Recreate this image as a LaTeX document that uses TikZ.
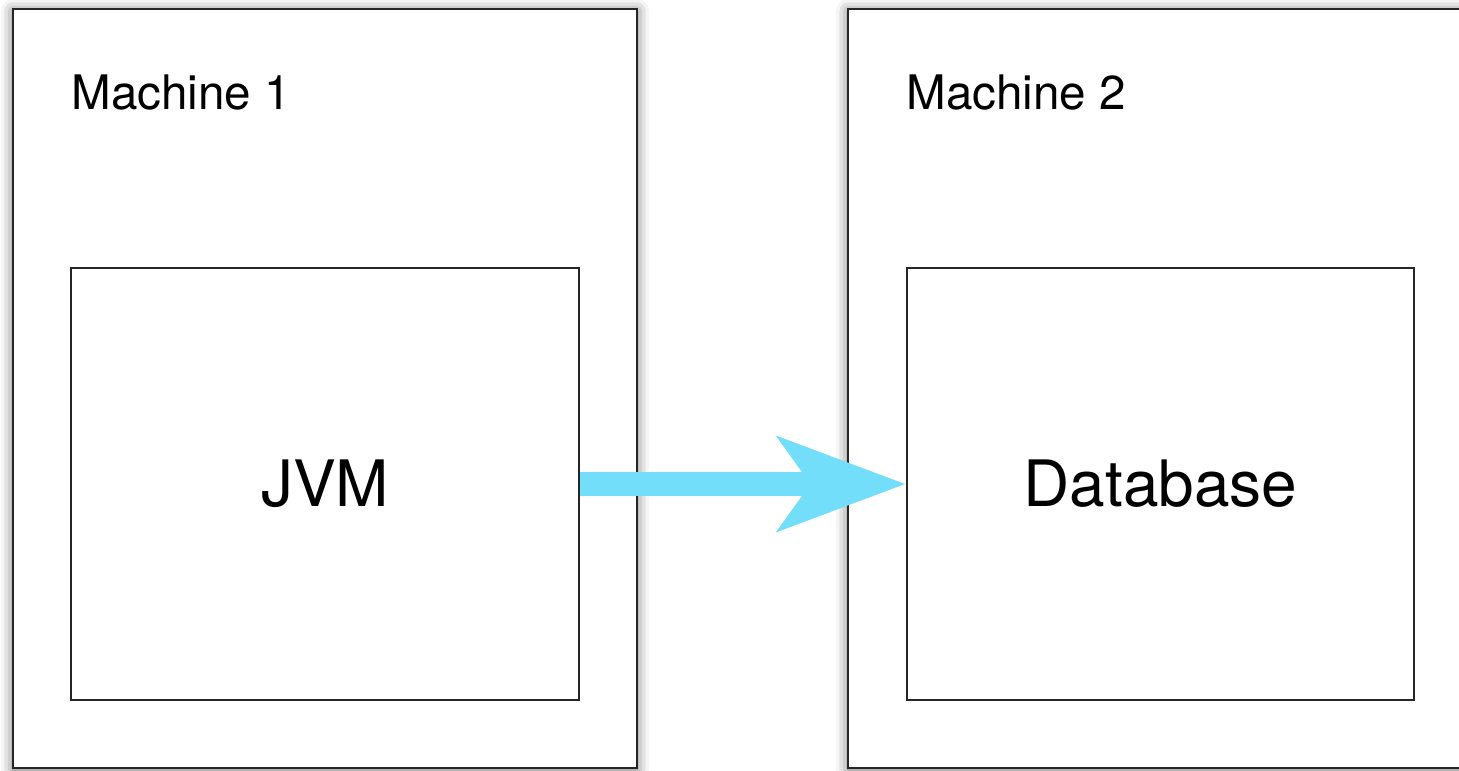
\documentclass[tikz,border=0pt]{standalone}
\usepackage{fontspec}
\setmainfont{TeX Gyre Heros}
\usetikzlibrary{positioning}
\usetikzlibrary{shadows.blur}
\usetikzlibrary{arrows.meta}
\definecolor{arrowblue}{RGB}{115,222,250}

\begin{document}
\begin{tikzpicture}[x=0.5pt,y=-0.5pt]
\tikzset{machine/.style={draw=black!85, line width=1.3pt, fill=white, inner sep=0pt,
    blur shadow={shadow xshift=0pt, shadow yshift=-1pt, shadow blur radius=6pt, shadow opacity=60}}}
\tikzset{process/.style={draw=black!85, line width=1.3pt, fill=white, inner sep=0pt,
    font=\fontsize{32}{36}\selectfont}}
\tikzset{title/.style={anchor=base west, inner sep=0pt, font=\fontsize{23.8}{28}\selectfont}}
\useasboundingbox (0,0) rectangle (1459,770);

\node[machine, minimum width=312pt, minimum height=379.5pt] (m1) at (325,388.5) {};
\node[machine, minimum width=311pt, minimum height=379.5pt] (m2) at (1159,388.5) {};

\node[title] (m1label) at (71,110) {Machine 1};
\node[title] (m2label) at (906,110) {Machine 2};

\node[process, minimum width=254pt, minimum height=216pt] (jvm) at (325,484) {JVM};
\node[process, minimum width=253.5pt, minimum height=216pt] (db) at (1160.5,484) {Database};

\draw[-{Stealth[length=63.5pt, width=46.5pt, inset=16pt]}, line width=12pt, draw=arrowblue, fill=arrowblue] (jvm.east) -- (db.west);
\end{tikzpicture}
\end{document}
